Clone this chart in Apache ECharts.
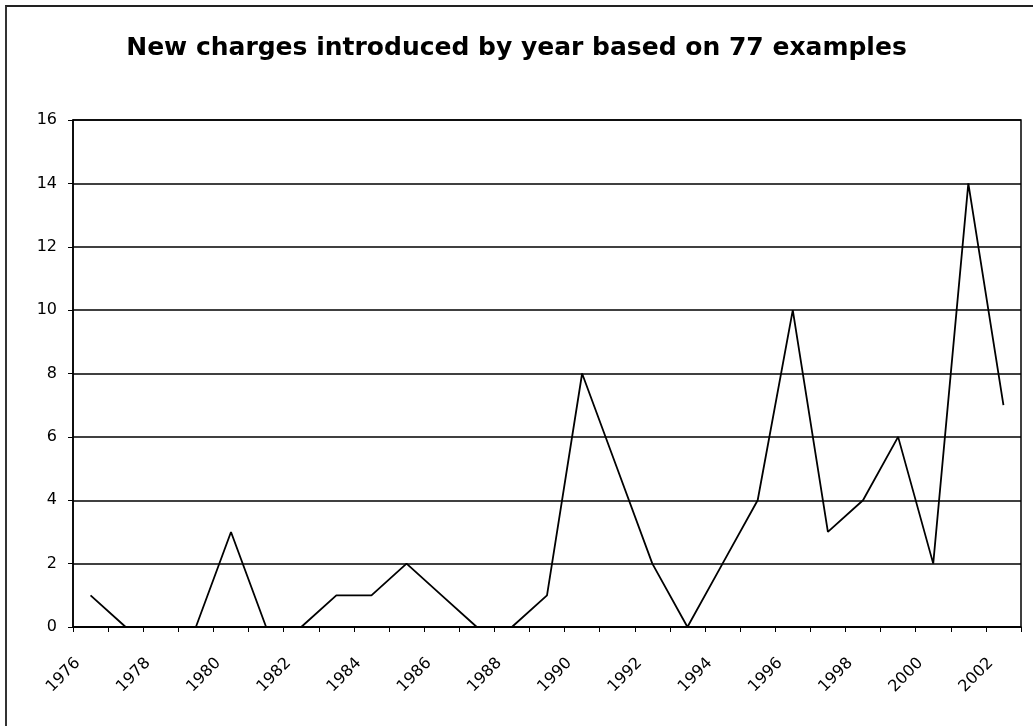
<!DOCTYPE html>
<html>
<head>
<meta charset="utf-8">
<script src="https://cdn.jsdelivr.net/npm/echarts@6/dist/echarts.min.js"></script>
<style>
  html, body { margin: 0; padding: 0; background: #fff; }
  #chart { position: absolute; left: 0; top: 0; width: 1033px; height: 726px; }
  /* outer chart-area frame, runs off the right and bottom edge like the scan */
  #frame { position: absolute; left: 5px; top: 5px; width: 1040px; height: 740px;
           border-left: 2px solid #333; border-top: 2px solid #222; pointer-events: none; }
</style>
</head>
<body>
<div id="chart"></div>
<div id="frame"></div>
<script>
// years 1976..2002
var years = ['1976', '1977', '1978', '1979', '1980', '1981', '1982', '1983', '1984',
  '1985', '1986', '1987', '1988', '1989', '1990', '1991', '1992', '1993', '1994',
  '1995', '1996', '1997', '1998', '1999', '2000', '2001', '2002'];
// new charges per year (sums to 77)
var charges = [1, 0, 0, 0, 3, 0, 0, 1, 1, 2, 1, 0, 0, 1, 8, 5, 2, 0, 2, 4, 10, 3, 4, 6, 2, 14, 7];
var titleText = 'New charges introduced by year based on 77 examples';

var chart = echarts.init(document.getElementById('chart'));
chart.setOption({
  backgroundColor: '#fff',
  animation: false,
  title: {
    text: titleText,
    left: 'center',
    top: 31,
    textStyle: {
      fontFamily: 'DejaVu Sans',
      fontWeight: 'bold',
      fontSize: 25,
      color: '#000'
    }
  },
  grid: {
    left: 73,
    right: 12,
    top: 120,
    bottom: 99,
    show: true,
    borderColor: '#000',
    borderWidth: 1.5
  },
  xAxis: {
    type: 'category',
    data: years,
    boundaryGap: true,
    axisLine: { lineStyle: { color: '#000', width: 1.5 } },
    axisTick: {
      show: true,
      interval: 0,
      length: 5,
      lineStyle: { color: '#000' }
    },
    axisLabel: {
      interval: 1,
      rotate: 45,
      margin: 21,
      padding: [0, 18, 0, 0],
      color: '#000',
      fontFamily: 'DejaVu Sans',
      fontSize: 16
    },
    splitLine: { show: false }
  },
  yAxis: {
    type: 'value',
    min: 0,
    max: 16,
    interval: 2,
    axisLine: { show: true, lineStyle: { color: '#000', width: 1.5 } },
    axisTick: { show: true, length: 5, lineStyle: { color: '#000' } },
    axisLabel: {
      margin: 16,
      color: '#000',
      fontFamily: 'DejaVu Sans',
      fontSize: 16
    },
    splitLine: { show: true, lineStyle: { color: '#000', width: 1.5 } }
  },
  series: [{
    name: 'New charges',
    type: 'line',
    data: charges,
    symbol: 'none',
    lineStyle: { color: '#000', width: 1.8 },
    z: 3
  }]
});
</script>
</body>
</html>
